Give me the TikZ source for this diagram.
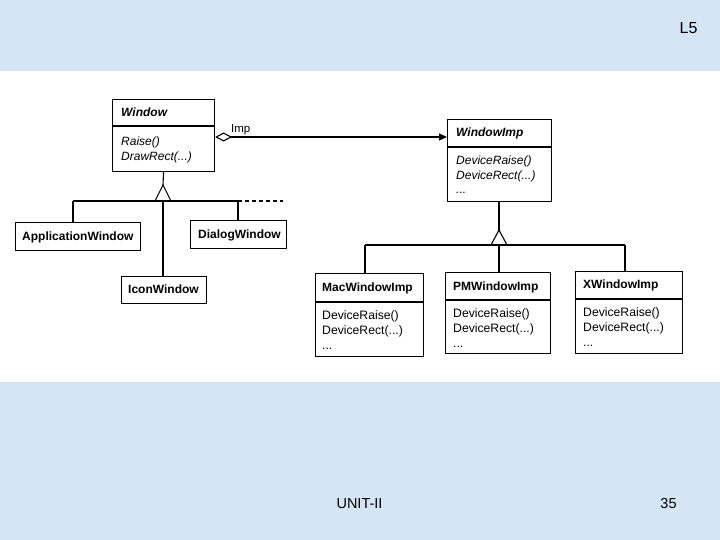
\documentclass[tikz,border=0pt]{standalone}
\usepackage{fontspec}
\setmainfont{Liberation Sans}
\usetikzlibrary{arrows.meta}
\definecolor{bgblue}{RGB}{213,229,245}
\begin{document}
\begin{tikzpicture}[x=1pt,y=-1pt,
  cls/.style={draw, line width=1.1pt, inner sep=0pt, anchor=north west},
  nm/.style={anchor=base west, inner sep=0pt, font=\fontsize{12}{14}\selectfont\bfseries},
  nmi/.style={anchor=base west, inner sep=0pt, font=\fontsize{12}{14}\selectfont\bfseries\itshape},
  mt/.style={anchor=base west, inner sep=0pt, font=\fontsize{12.2}{14}\selectfont},
  mti/.style={anchor=base west, inner sep=0pt, font=\fontsize{12}{14}\selectfont\itshape},
  lbl/.style={anchor=base west, inner sep=0pt, font=\fontsize{11.5}{13}\selectfont},
  ln/.style={line width=1.1pt},
  slide/.style={inner sep=0pt, font=\fontsize{14.5}{16}\selectfont}]
% background
\fill[bgblue] (0,0) rectangle (720,540);
\fill[white] (0,71) rectangle (720,382);
\useasboundingbox (0,0) rectangle (720,540);
% slide texts
\node[slide, font=\fontsize{16}{18}\selectfont] (l5) at (688.5,28) {L5};
\node[slide] (unit) at (359.5,503.5) {UNIT-II};
\node[slide] (page) at (668.5,503.5) {35};

% Window
\node[cls, minimum width=102pt, minimum height=72pt] (win) at (112,99) {};
\draw[ln] (112,126) -- (214,126);
\node[nmi] (winN) at (121,117) {Window};
\node[mti] (winM1) at (121,145.5) {Raise()};
\node[mti] (winM2) at (121,161) {DrawRect(...)};

% WindowImp
\node[cls, minimum width=104pt, minimum height=82pt] (imp) at (447,119) {};
\draw[ln] (447,147) -- (551,147);
\node[nmi] (impN) at (456,137) {WindowImp};
\node[mti] (impM1) at (456,164.5) {DeviceRaise()};
\node[mti] (impM2) at (456,180) {DeviceRect(...)};
\node[mti] (impM3) at (456,194) {...};

% Window subclasses
\node[cls, minimum width=125pt, minimum height=28pt] (app) at (15,222) {};
\node[nm] (appN) at (22,240.5) {ApplicationWindow};
\node[cls, minimum width=96pt, minimum height=28pt] (dlg) at (190,220) {};
\node[nm] (dlgN) at (198,238) {DialogWindow};
\node[cls, minimum width=85pt, minimum height=27pt] (icon) at (121,276) {};
\node[nm] (iconN) at (128,293.5) {IconWindow};

% WindowImp subclasses
\node[cls, minimum width=108pt, minimum height=83pt] (mac) at (315,273) {};
\draw[ln] (315,302) -- (423,302);
\node[nm] (macN) at (322,291.5) {MacWindowImp};
\node[mt] (macM1) at (322,319.5) {DeviceRaise()};
\node[mt] (macM2) at (322,334.5) {DeviceRect(...)};
\node[mt] (macM3) at (322,349) {...};

\node[cls, minimum width=105pt, minimum height=81pt] (pm) at (445,271.5) {};
\draw[ln] (445,300) -- (550,300);
\node[nm] (pmN) at (453,290) {PMWindowImp};
\node[mt] (pmM1) at (453,317.5) {DeviceRaise()};
\node[mt] (pmM2) at (453,332.5) {DeviceRect(...)};
\node[mt] (pmM3) at (453,347) {...};

\node[cls, minimum width=107pt, minimum height=82pt] (xw) at (575,270.5) {};
\draw[ln] (575,299) -- (682,299);
\node[nm] (xwN) at (583,288.5) {XWindowImp};
\node[mt] (xwM1) at (583,316.5) {DeviceRaise()};
\node[mt] (xwM2) at (583,331.5) {DeviceRect(...)};
\node[mt] (xwM3) at (583,346) {...};

% association Window -> WindowImp
\coordinate (ay) at (0,137);
\draw[ln, {Diamond[open,length=17pt,width=9pt,line width=1.1pt]}-{Triangle[length=8pt,width=7pt]}]
  (win.east |- ay) -- (imp.west |- ay);
\node[lbl] (imp lbl) at (231,132.5) {Imp};

% inheritance Window
\coordinate (t1) at (163,185);
\coordinate (b1) at (163,201);
\coordinate (b1l) at (73,201);
\coordinate (b1r) at (238,201);
\coordinate (b1d) at (283,201);
\draw[ln] (win.south) -- (t1);
\draw[ln] (t1) -- (155,201) -- (171,201) -- cycle;
\draw[ln] (b1l) -- (b1r);
\draw[ln, dash pattern=on 4pt off 3pt] (b1r) -- (b1d);
\draw[ln] (b1l) -- (b1l |- app.north);
\draw[ln] (b1) -- (b1 |- icon.north);
\draw[ln] (b1r) -- (b1r |- dlg.north);

% inheritance WindowImp
\coordinate (t2) at (499,230);
\coordinate (b2) at (499,245);
\coordinate (b2l) at (365,245);
\coordinate (b2r) at (625,245);
\draw[ln] (imp.south -| t2) -- (t2);
\draw[ln] (t2) -- (491,245) -- (507,245) -- cycle;
\draw[ln] (b2l) -- (b2r);
\draw[ln] (b2l) -- (b2l |- mac.north);
\draw[ln] (b2) -- (b2 |- pm.north);
\draw[ln] (b2r) -- (b2r |- xw.north);
\end{tikzpicture}
\end{document}
